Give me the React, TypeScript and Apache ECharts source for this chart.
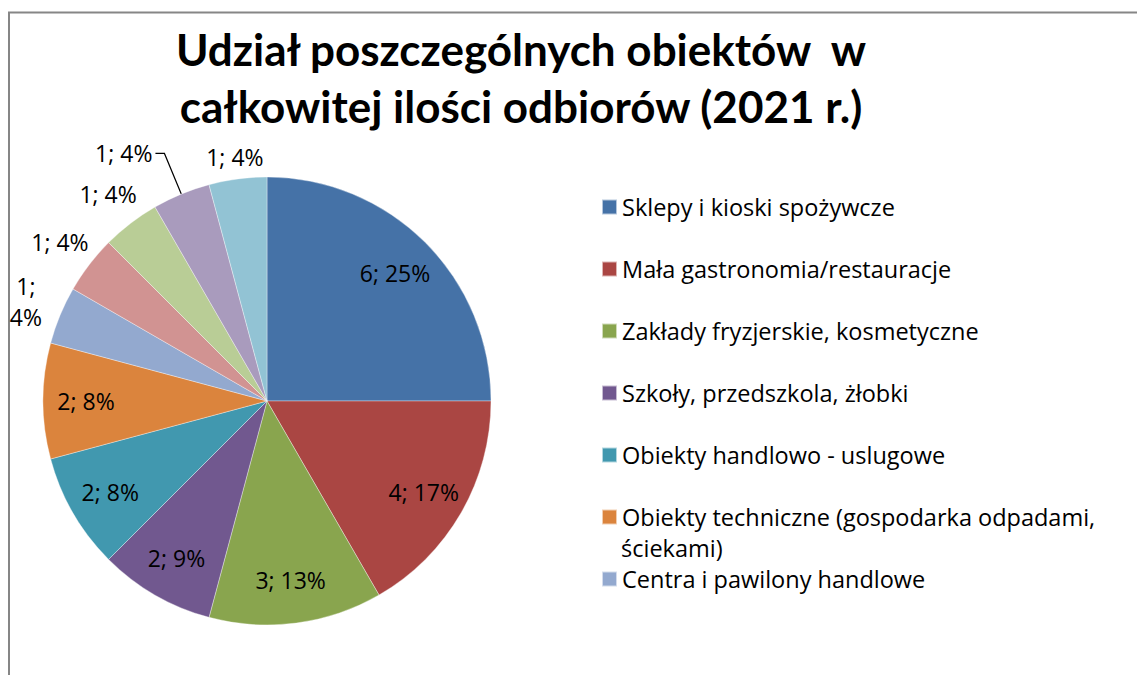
import React, { useEffect, useRef } from "react";
import * as echarts from "echarts";

const TITLE = "Udział poszczególnych obiektów  w\ncałkowitej ilości odbiorów (2021 r.)";

const categories = [
  "Sklepy i kioski spożywcze",
  "Mała gastronomia/restauracje",
  "Zakłady fryzjerskie, kosmetyczne",
  "Szkoły, przedszkola, żłobki",
  "Obiekty handlowo - uslugowe",
  "Obiekty techniczne (gospodarka odpadami, ściekami)",
  "Centra i pawilony handlowe",
  "Pozostałe obiekty 1",
  "Pozostałe obiekty 2",
  "Pozostałe obiekty 3",
  "Pozostałe obiekty 4",
];

const values = [6, 4, 3, 2, 2, 2, 1, 1, 1, 1, 1];

const colors = [
  "#4572A7",
  "#AA4643",
  "#89A54E",
  "#71588F",
  "#4198AF",
  "#DB843D",
  "#93A9CF",
  "#D19392",
  "#B9CD96",
  "#A99BBD",
  "#92C3D4",
];

// which slices show their label inside the pie, outside (ring), or with a leader line
const innerLabelIdx = [0, 1, 2, 3, 4, 5];
const ringLabelIdx = [6, 7, 8];
const nearRingLabelIdx = [10];
const leaderLabelIdx = [9];
const wrappedLabelIdx = [6];
const legendShown = categories.slice(0, 7);

const TITLE_FONT = "Lato, 'Open Sans', sans-serif";
const FONT = "'Open Sans', Lato, sans-serif";

export default function App() {
  const ref = useRef<HTMLDivElement>(null);
  useEffect(() => {
    if (!ref.current) return;
    const chart = echarts.init(ref.current, undefined, { renderer: "svg" });
    const center = [267, 401];
    const R = 224;
    const labelFmt = (p: any) =>
      wrappedLabelIdx.includes(p.dataIndex)
        ? `${p.value};\n${p.percent}%`
        : `${p.value}; ${p.percent}%`;
    const baseLabel = {
      color: "#000",
      fontFamily: FONT,
      fontSize: 23,
      lineHeight: 26,
      formatter: labelFmt,
    };
    const labelSeries = (radius: number[], shown: number[]) => ({
      type: "pie",
      center,
      radius,
      startAngle: 90,
      clockwise: true,
      percentPrecision: 0,
      silent: true,
      avoidLabelOverlap: false,
      emphasis: { disabled: true },
      itemStyle: { color: "rgba(0,0,0,0)" },
      label: { ...baseLabel, show: false, position: "inside" },
      labelLine: { show: false },
      data: categories.map((name, i) => ({
        name,
        value: values[i],
        label: {
          show: shown.includes(i),
          lineHeight: wrappedLabelIdx.includes(i) ? 31 : 26,
        },
      })),
    });
    const option: any = {
      animation: false,
      backgroundColor: "#fff",
      title: {
        text: TITLE,
        left: 521,
        top: 20,
        padding: 0,
        textAlign: "center",
        textStyle: {
          fontFamily: TITLE_FONT,
          fontWeight: "bold",
          fontSize: 44,
          lineHeight: 57,
          color: "#000",
        },
      },
      legend: {
        orient: "vertical",
        left: 596,
        top: 188,
        padding: 5,
        itemWidth: 15,
        itemHeight: 15,
        itemGap: 34,
        icon: "rect",
        selectedMode: false,
        data: legendShown,
        formatter: (name: string) =>
          name.startsWith("Obiekty techniczne") ? "Obiekty techniczne (gospodarka odpadami," : name,
        textStyle: {
          fontFamily: FONT,
          fontSize: 23.5,
          lineHeight: 28,
          color: "#000",
        },
      },
      graphic: [
        {
          type: "rect",
          silent: true,
          shape: { x: 9, y: 12.5, width: 1200, height: 700 },
          style: { fill: "none", stroke: "#868686", lineWidth: 2 },
        },
        {
          type: "text",
          silent: true,
          x: 621,
          y: 548,
          style: {
            text: "ściekami)",
            fontFamily: FONT,
            fontSize: 23.5,
            lineHeight: 28,
            fill: "#000",
            verticalAlign: "middle",
          },
        },
      ],
      series: [
        {
          type: "pie",
          center,
          radius: R,
          startAngle: 90,
          clockwise: true,
          percentPrecision: 0,
          avoidLabelOverlap: false,
          emphasis: { disabled: true },
          itemStyle: { borderColor: "rgba(255,255,255,0.6)", borderWidth: 0.6 },
          label: { show: false },
          labelLine: { show: false },
          data: categories.map((name, i) => {
            const item: any = { name, value: values[i], itemStyle: { color: colors[i] } };
            if (leaderLabelIdx.includes(i)) {
              item.label = { ...baseLabel, show: true, position: "outside", distanceToLabelLine: 3 };
              item.labelLine = {
                show: true,
                length: 44,
                length2: 9,
                lineStyle: { color: "#000", width: 1.2 },
              };
            }
            return item;
          }),
        },
        labelSeries([132, R], innerLabelIdx),
        labelSeries([232, 284], ringLabelIdx),
        labelSeries([224, 262], nearRingLabelIdx),
      ],
    };
    chart.setOption(option);
    return () => chart.dispose();
  }, []);
  return (
    <div
      ref={ref}
      style={{ position: "absolute", left: 0, top: 0, width: 1137, height: 675 }}
    />
  );
}
